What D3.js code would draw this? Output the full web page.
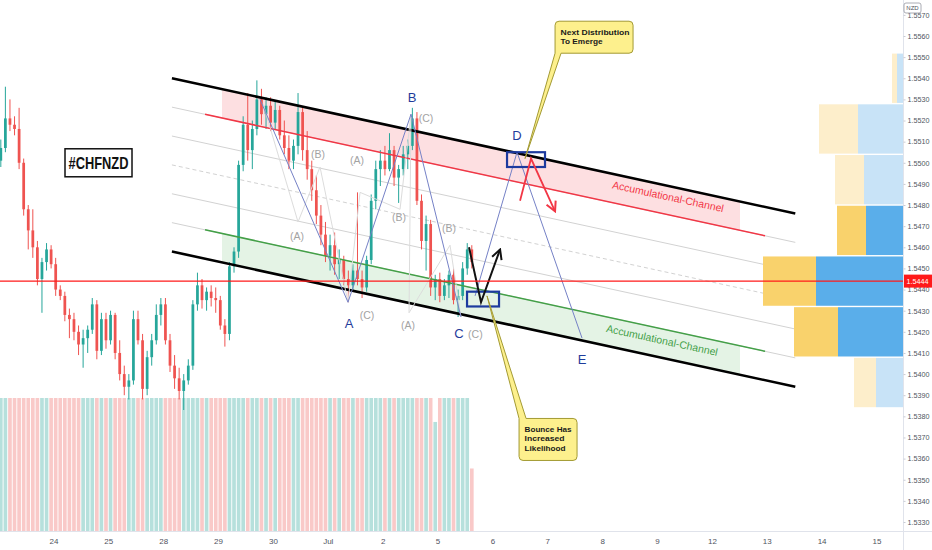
<!DOCTYPE html>
<html>
<head>
<meta charset="utf-8">
<script src="https://cdn.jsdelivr.net/npm/d3@7"></script>
<style>
html, body { margin: 0; padding: 0; background: #fff; }
svg { display: block; font-family: "Liberation Sans", Arial, sans-serif; }
</style>
</head>
<body>
<div id="chart"></div>
<script>
// trading days, weekends skipped: 0 = Jun 23, 1 = Jun 24 ... 16 = Jul 15
var dayTicks = [1, 2, 3, 4, 5, 6, 7, 8, 9, 10, 11, 12, 13, 14, 15, 16];
var dayLabels = ["24", "25", "28", "29", "30", "Jul", "2", "5", "6", "7", "8", "9", "12", "13", "14", "15"];
var priceTicks = [1.5330, 1.5340, 1.5350, 1.5360, 1.5370, 1.5380, 1.5390, 1.5400, 1.5410, 1.5420, 1.5430, 1.5440,
    1.5450, 1.5460, 1.5470, 1.5480, 1.5490, 1.5500, 1.5510, 1.5520, 1.5530, 1.5540, 1.5550, 1.5560, 1.5570];

// 2h candles from Jun 23 00:00 : [open, high, low, close]
var candles = [
    [1.5501,1.5511,1.5498,1.5507],[1.5507,1.5536,1.5505,1.5521],[1.5521,1.5530,1.5515,1.5518],[1.5518,1.5522,1.5513,1.5516],
    [1.5516,1.5526,1.5497,1.5500],[1.5500,1.5502,1.5475,1.5478],[1.5478,1.5480,1.5459,1.5468],[1.5468,1.5478,1.5455,1.5460],
    [1.5460,1.5463,1.5442,1.5445],[1.5445,1.5455,1.5429,1.5453],[1.5453,1.5462,1.5449,1.5459],[1.5459,1.5461,1.5450,1.5452],
    [1.5452,1.5455,1.5437,1.5440],[1.5440,1.5442,1.5435,1.5437],[1.5437,1.5439,1.5425,1.5428],[1.5428,1.5431,1.5417,1.5426],
    [1.5426,1.5429,1.5416,1.5420],[1.5420,1.5423,1.5409,1.5414],[1.5414,1.5421,1.5403,1.5417],[1.5417,1.5423,1.5410,1.5421],
    [1.5421,1.5436,1.5419,1.5433],[1.5433,1.5435,1.5407,1.5411],[1.5411,1.5429,1.5409,1.5426],[1.5426,1.5429,1.5412,1.5416],
    [1.5416,1.5430,1.5414,1.5428],[1.5428,1.5429,1.5407,1.5410],[1.5410,1.5416,1.5397,1.5400],[1.5400,1.5404,1.5390,1.5394],
    [1.5394,1.5400,1.5388,1.5397],[1.5397,1.5430,1.5395,1.5426],[1.5426,1.5430,1.5414,1.5416],[1.5416,1.5419,1.5388,1.5393],
    [1.5393,1.5411,1.5390,1.5408],[1.5408,1.5419,1.5404,1.5416],[1.5416,1.5433,1.5414,1.5428],[1.5428,1.5436,1.5423,1.5433],
    [1.5433,1.5436,1.5414,1.5416],[1.5416,1.5419,1.5401,1.5404],[1.5404,1.5409,1.5393,1.5398],[1.5398,1.5403,1.5388,1.5392],
    [1.5392,1.5400,1.5383,1.5397],[1.5397,1.5407,1.5395,1.5404],[1.5404,1.5435,1.5402,1.5433],[1.5433,1.5448,1.5430,1.5442],
    [1.5442,1.5445,1.5431,1.5435],[1.5435,1.5441,1.5430,1.5439],[1.5439,1.5442,1.5432,1.5436],[1.5436,1.5441,1.5429,1.5435],
    [1.5435,1.5437,1.5421,1.5423],[1.5423,1.5426,1.5413,1.5419],[1.5419,1.5453,1.5416,1.5451],[1.5451,1.5460,1.5448,1.5458],
    [1.5458,1.5501,1.5455,1.5499],[1.5499,1.5522,1.5496,1.5518],[1.5518,1.5533,1.5501,1.5506],[1.5506,1.5520,1.5497,1.5516],
    [1.5516,1.5539,1.5513,1.5530],[1.5530,1.5535,1.5518,1.5523],[1.5523,1.5531,1.5516,1.5527],[1.5527,1.5531,1.5515,1.5519],
    [1.5519,1.5529,1.5516,1.5525],[1.5525,1.5527,1.5511,1.5513],[1.5513,1.5520,1.5504,1.5507],[1.5507,1.5513,1.5497,1.5501],
    [1.5501,1.5511,1.5497,1.5508],[1.5508,1.5533,1.5504,1.5524],[1.5524,1.5526,1.5501,1.5506],[1.5506,1.5515,1.5492,1.5497],
    [1.5497,1.5501,1.5482,1.5487],[1.5487,1.5494,1.5471,1.5475],[1.5475,1.5480,1.5461,1.5466],[1.5466,1.5472,1.5453,1.5456],
    [1.5456,1.5466,1.5449,1.5461],[1.5461,1.5467,1.5447,1.5452],[1.5452,1.5459,1.5445,1.5454],[1.5454,1.5456,1.5442,1.5445],
    [1.5445,1.5449,1.5434,1.5442],[1.5442,1.5452,1.5439,1.5449],[1.5449,1.5486,1.5442,1.5445],[1.5445,1.5449,1.5436,1.5441],
    [1.5441,1.5456,1.5439,1.5454],[1.5454,1.5485,1.5452,1.5482],[1.5482,1.5501,1.5478,1.5497],[1.5497,1.5506,1.5489,1.5501],
    [1.5501,1.5508,1.5494,1.5497],[1.5497,1.5514,1.5496,1.5506],[1.5506,1.5508,1.5489,1.5493],[1.5493,1.5499,1.5481,1.5497],
    [1.5497,1.5508,1.5494,1.5504],[1.5504,1.5511,1.5497,1.5508],[1.5508,1.5526,1.5506,1.5521],[1.5521,1.5524,1.5480,1.5482],
    [1.5482,1.5485,1.5459,1.5463],[1.5463,1.5475,1.5449,1.5471],[1.5471,1.5473,1.5437,1.5441],[1.5441,1.5447,1.5435,1.5445],
    [1.5445,1.5448,1.5434,1.5437],[1.5437,1.5445,1.5435,1.5442],[1.5442,1.5449,1.5436,1.5447],[1.5447,1.5450,1.5433,1.5435],
    [1.5435,1.5440,1.5427,1.5437],[1.5437,1.5453,1.5435,1.5450],[1.5450,1.5462,1.5447,1.5459],[1.5459,1.5461,1.5450,1.5453]
];

// tick volume per candle (pane is capped, most bars run off the top)
var volumes = [
    1180,1240,1090,1130,1210,1320,1260,1150,1190,1230,1110,1070,
    1160,1050,1120,1200,1140,1090,1250,1170,1210,1300,1180,1130,
    1150,1220,1270,1160,1100,1290,1190,1240,1130,1080,1210,1150,
    1120,1180,1230,1170,1310,1200,1350,1280,1140,1090,1060,1110,
    1190,1220,1360,1230,1420,1380,1290,1210,1330,1240,1170,1150,
    1120,1200,1230,1180,1160,1270,1250,1190,1220,1260,1240,1180,
    1150,1170,1130,1190,1260,1140,1310,1170,1200,1250,1280,1190,
    1140,1210,1160,1120,1100,1230,1340,1390,1300,1260,1210,820,
    1180,1150,1130,1170,1220,1190,1160,470
];
var lastPrice = 1.5444;

// volume profile rows, bottom to top
var vpEdges = [1.5384, 1.5408, 1.5432, 1.5456, 1.5480, 1.5504, 1.5528, 1.5552];
var vpUp = [27, 65, 87, 37, 39, 45, 6];
var vpDown = [22, 44, 53, 29, 29, 39, 5];
var vpValueArea = [false, true, true, true, false, false, false];

// parallel channel: top line anchors [day, price], width in price
var channelTop = [[3.16, 1.5540], [14.52, 1.5476]];
var channelWidth = 0.0082;
var channelLevels = [0, 1 / 6, 2 / 6, 3 / 6, 4 / 6, 5 / 6, 1];
var levelSpan = [3.763, 13.969];
var zoneSpan = [4.073, 13.513];
var channelNames = ["Accumulational-Channel", "Accumulational-Channel"];
var channelNamePos = [[12.201, 1.5484], [12.092, 1.5416]];

// wave count
var waveMain = [[4.765, 1.5530], [6.369, 1.5434], [7.517, 1.5523], [8.428, 1.5427]];
var waveProj = [[8.684, 1.5437], [9.449, 1.5505], [10.634, 1.5417]];
var waveSub = [
    [[4.820, 1.5528], [5.458, 1.5472], [5.859, 1.5498], [6.369, 1.5434]],
    [[6.369, 1.5434], [6.588, 1.5486], [7.317, 1.5478], [7.517, 1.5523]],
    [[7.517, 1.5523], [7.481, 1.5429], [8.228, 1.5461], [8.428, 1.5427]]
];
var waveLabels = [["A", 6.387, 1.5424], ["B", 7.535, 1.5531], ["C", 8.392, 1.5419], ["D", 9.449, 1.5513], ["E", 10.634, 1.5407]];
var subLabels = [["(A)", 5.440, 1.5465], ["(B)", 5.822, 1.5504], ["(C)", 6.715, 1.5428], ["(A)", 6.533, 1.5501],
    ["(B)", 7.298, 1.5474], ["(C)", 7.791, 1.5521], ["(A)", 7.463, 1.5423], ["(B)", 8.210, 1.5469], ["(C)", 8.690, 1.5419]];
var zoneBoxes = [[9.267, 9.959, 1.5505, 1.5498], [8.538, 9.121, 1.5439, 1.5432]];
var bounceArrow = [[8.574, 1.5460], [8.793, 1.5434], [9.140, 1.5459]];
var dropArrow = [[9.504, 1.5482], [9.704, 1.5502], [10.142, 1.5477]];

// callouts: text, tip [day, price], box corner [day, price]
var calloutText = [["Next Distribution", "To Emerge"], ["Bounce Has", "Increased", "Likelihood"]];
var calloutTip = [[9.595, 1.5502], [8.902, 1.5437]];
var calloutBox = [[10.142, 1.5567], [9.486, 1.5379]];
var ticker = ["#CHFNZD", 1.822, 1.5500];

var W = 932, H = 550, plotRight = 903, plotBottom = 531;

var x = d3.scaleLinear().domain([1, 16]).range([53.4, 876.5]);
var y = d3.scaleLinear().domain([1.5330, 1.5560]).range([522, 36]);
var vy = d3.scaleLinear().domain([0, 1000]).range([plotBottom, 398]).clamp(true);
var vpx = d3.scaleLinear().domain([0, 140]).range([0, 140]);
var step = 1 / 12;
var line = d3.line().x(function(d) { return x(d[0]); }).y(function(d) { return y(d[1]); });

var svg = d3.select("#chart").append("svg").attr("width", W).attr("height", H);
var defs = svg.append("defs");
defs.append("clipPath").attr("id", "plotClip")
    .append("rect").attr("width", plotRight).attr("height", plotBottom);

function addMarker(id, color) {
    defs.append("marker").attr("id", id)
        .attr("viewBox", "0 0 12 12").attr("refX", 10.5).attr("refY", 6)
        .attr("markerWidth", 12).attr("markerHeight", 12)
        .attr("markerUnits", "userSpaceOnUse").attr("orient", "auto")
        .append("path").attr("d", "M1,1 L10.5,6 L1,11")
        .attr("fill", "none").attr("stroke", color).attr("stroke-width", 2);
}
addMarker("headBlack", "#111");
addMarker("headRed", "#f23645");

var plot = svg.append("g").attr("clip-path", "url(#plotClip)");

// Volume
var barW = x(step) - x(0);
plot.append("g").selectAll("rect").data(candles).enter().append("rect")
    .attr("x", function(d, i) { return x((i + 0.5) * step) - barW * 0.4; })
    .attr("width", barW * 0.8)
    .attr("y", function(d, i) { return vy(volumes[i]); })
    .attr("height", function(d, i) { return plotBottom - vy(volumes[i]); })
    .attr("fill", function(d) { return d[3] >= d[0] ? "#b6e0dc" : "#f9c9c8"; });

// Channel
function chP(t, lvl) {
    var a = channelTop[0], b = channelTop[1];
    return a[1] + (b[1] - a[1]) * (t - a[0]) / (b[0] - a[0]) - lvl * channelWidth;
}
function seg(lvl, span) { return [[span[0], chP(span[0], lvl)], [span[1], chP(span[1], lvl)]]; }
function band(l0, l1, span) {
    return [[span[0], chP(span[0], l0)], [span[1], chP(span[1], l0)], [span[1], chP(span[1], l1)], [span[0], chP(span[0], l1)]];
}
var fullSpan = [channelTop[0][0], channelTop[1][0]];

plot.append("path").attr("d", line(band(0, 1 / 6, zoneSpan)) + "Z").attr("fill", "rgba(242,54,69,0.16)");
plot.append("path").attr("d", line(band(5 / 6, 1, zoneSpan)) + "Z").attr("fill", "rgba(76,175,80,0.15)");

plot.append("g").selectAll("path").data(channelLevels.slice(1, 6)).enter().append("path")
    .attr("d", function(l) { return line(seg(l, fullSpan)); })
    .attr("fill", "none").attr("stroke", "#d2d2d2").attr("stroke-width", 1)
    .attr("stroke-dasharray", function(l, i) { return i === 2 ? "4,3" : null; });

// Volume profile
var vpG = plot.append("g");
vpUp.forEach(function(u, i) {
    var top = y(vpEdges[i + 1]) + 0.7, h = y(vpEdges[i]) - y(vpEdges[i + 1]) - 1.4;
    var dark = vpValueArea[i];
    vpG.append("rect").attr("x", plotRight - vpx(u)).attr("y", top).attr("width", vpx(u)).attr("height", h)
        .attr("fill", dark ? "#5aaeea" : "#c8e3f7");
    vpG.append("rect").attr("x", plotRight - vpx(u) - vpx(vpDown[i])).attr("y", top).attr("width", vpx(vpDown[i])).attr("height", h)
        .attr("fill", dark ? "#f9d26c" : "#fdeecb");
});

// Candles
var cw = barW * 0.6;
var cg = plot.append("g").selectAll("g").data(candles).enter().append("g");
function cc(d) { return d[3] >= d[0] ? "#26a69a" : "#ef5350"; }
cg.append("line")
    .attr("x1", function(d, i) { return x((i + 0.5) * step); })
    .attr("x2", function(d, i) { return x((i + 0.5) * step); })
    .attr("y1", function(d) { return y(d[1]); })
    .attr("y2", function(d) { return y(d[2]); })
    .attr("stroke", cc).attr("stroke-width", 1);
cg.append("rect")
    .attr("x", function(d, i) { return x((i + 0.5) * step) - cw / 2; })
    .attr("width", cw)
    .attr("y", function(d) { return y(Math.max(d[0], d[3])); })
    .attr("height", function(d) { return Math.max(1, Math.abs(y(d[0]) - y(d[3]))); })
    .attr("fill", cc);

// Channel borders and levels
plot.append("path").attr("d", line(seg(1 / 6, levelSpan))).attr("stroke", "#f23645").attr("stroke-width", 1.5).attr("fill", "none");
plot.append("path").attr("d", line(seg(5 / 6, levelSpan))).attr("stroke", "#43a047").attr("stroke-width", 1.5).attr("fill", "none");
[0, 1].forEach(function(l) {
    plot.append("path").attr("d", line(seg(l, fullSpan))).attr("stroke", "#000").attr("stroke-width", 2.6).attr("fill", "none");
});

var ang = Math.atan2(y(channelTop[1][1]) - y(channelTop[0][1]), x(channelTop[1][0]) - x(channelTop[0][0])) * 180 / Math.PI;
channelNames.forEach(function(n, i) {
    var px = x(channelNamePos[i][0]), py = y(channelNamePos[i][1]);
    plot.append("text").attr("transform", "translate(" + px + "," + py + ") rotate(" + ang + ")")
        .attr("text-anchor", "middle").attr("dy", "0.35em")
        .attr("font-size", 10.5).attr("fill", i === 0 ? "#f23645" : "#43a047")
        .text(n);
});

// Waves
plot.append("g").selectAll("path").data(waveSub).enter().append("path")
    .attr("d", line).attr("fill", "none").attr("stroke", "#dcdcdc").attr("stroke-width", 1);
plot.append("path").attr("d", line(waveMain)).attr("fill", "none").attr("stroke", "#7581c6").attr("stroke-width", 1);
plot.append("path").attr("d", line(waveProj)).attr("fill", "none").attr("stroke", "#7581c6").attr("stroke-width", 1);

plot.append("g").selectAll("text").data(subLabels).enter().append("text")
    .attr("x", function(d) { return x(d[1]); }).attr("y", function(d) { return y(d[2]); })
    .attr("text-anchor", "middle").attr("dy", "0.35em").attr("font-size", 10.5).attr("fill", "#a3a3a3")
    .text(function(d) { return d[0]; });
plot.append("g").selectAll("text").data(waveLabels).enter().append("text")
    .attr("x", function(d) { return x(d[1]); }).attr("y", function(d) { return y(d[2]); })
    .attr("text-anchor", "middle").attr("dy", "0.35em").attr("font-size", 13).attr("fill", "#1f3c9b")
    .text(function(d) { return d[0]; });

// Zones and arrows
plot.append("g").selectAll("rect").data(zoneBoxes).enter().append("rect")
    .attr("x", function(d) { return x(d[0]); }).attr("y", function(d) { return y(d[2]); })
    .attr("width", function(d) { return x(d[1]) - x(d[0]); })
    .attr("height", function(d) { return y(d[3]) - y(d[2]); })
    .attr("fill", "none").attr("stroke", "#1d3a9e").attr("stroke-width", 2.2);
plot.append("path").attr("d", line(bounceArrow)).attr("fill", "none").attr("stroke", "#111")
    .attr("stroke-width", 2).attr("marker-end", "url(#headBlack)");
plot.append("path").attr("d", line(dropArrow)).attr("fill", "none").attr("stroke", "#f23645")
    .attr("stroke-width", 1.8).attr("marker-end", "url(#headRed)");

// Ticker tag
var tg = plot.append("g").attr("transform", "translate(" + x(ticker[1]) + "," + y(ticker[2]) + ")");
tg.append("rect").attr("x", -33.5).attr("y", -14).attr("width", 67).attr("height", 28)
    .attr("fill", "#fff").attr("stroke", "#111").attr("stroke-width", 1.5);
tg.append("text").attr("text-anchor", "middle").attr("y", 6.5)
    .attr("font-weight", "bold").attr("font-size", 17)
    .attr("textLength", 60).attr("lengthAdjust", "spacingAndGlyphs").attr("fill", "#111")
    .text(ticker[0]);

// Last price line
plot.append("line").attr("x1", 0).attr("x2", plotRight).attr("y1", y(lastPrice)).attr("y2", y(lastPrice))
    .attr("stroke", "#ff1a1a").attr("stroke-width", 1.4);

// Callouts
var boxSize = [[78, 32], [58, 42]];
var textWidths = [[69, 42], [47, 40, 41]];
calloutText.forEach(function(lines, k) {
    var bx = x(calloutBox[k][0]), by = y(calloutBox[k][1]);
    var w = boxSize[k][0], h = boxSize[k][1], r = 4;
    var tx = x(calloutTip[k][0]), ty = y(calloutTip[k][1]);
    var p;
    if (ty > by) {
        p = "M" + (bx + r) + "," + by + "H" + (bx + w - r) + "Q" + (bx + w) + "," + by + " " + (bx + w) + "," + (by + r) +
            "V" + (by + h - r) + "Q" + (bx + w) + "," + (by + h) + " " + (bx + w - r) + "," + (by + h) +
            "H" + (bx + 6) + "L" + tx + "," + ty + "L" + bx + "," + (by + h) + "V" + (by + r) +
            "Q" + bx + "," + by + " " + (bx + r) + "," + by + "Z";
    } else {
        p = "M" + bx + "," + by + "L" + tx + "," + ty + "L" + (bx + 7) + "," + by + "H" + (bx + w - r) +
            "Q" + (bx + w) + "," + by + " " + (bx + w) + "," + (by + r) + "V" + (by + h - r) +
            "Q" + (bx + w) + "," + (by + h) + " " + (bx + w - r) + "," + (by + h) + "H" + (bx + r) +
            "Q" + bx + "," + (by + h) + " " + bx + "," + (by + h - r) + "Z";
    }
    svg.append("path").attr("d", p).attr("fill", "#fdf08d").attr("stroke", "#a39a33").attr("stroke-width", 1);
    lines.forEach(function(t, j) {
        svg.append("text").attr("x", bx + 5.5).attr("y", by + 13.5 + j * 9.5)
            .attr("font-weight", "bold").attr("font-size", 8)
            .attr("textLength", textWidths[k][j]).attr("lengthAdjust", "spacingAndGlyphs")
            .attr("fill", "#1a1a1a").text(t);
    });
});

// Axes
svg.append("line").attr("x1", plotRight + 0.5).attr("x2", plotRight + 0.5).attr("y1", 0).attr("y2", H).attr("stroke", "#e0e3eb");
svg.append("line").attr("x1", 0).attr("x2", W).attr("y1", plotBottom + 0.5).attr("y2", plotBottom + 0.5).attr("stroke", "#e0e3eb");

var yAxis = svg.append("g").attr("transform", "translate(" + (plotRight + 0.5) + ",0)")
    .call(d3.axisRight(y).tickValues(priceTicks).tickFormat(d3.format(".4f")).tickSize(2).tickSizeOuter(0).tickPadding(2));
yAxis.select(".domain").remove();
yAxis.selectAll("line").attr("stroke", "#c9ccd4");
yAxis.selectAll("text").attr("font-family", "'Liberation Sans', Arial, sans-serif").attr("font-size", 7.2).attr("fill", "#50535e");

var xAxis = svg.append("g").attr("transform", "translate(0," + plotBottom + ")")
    .call(d3.axisBottom(x).tickValues(dayTicks).tickFormat(function(d, i) { return dayLabels[i]; }).tickSize(0).tickPadding(7));
xAxis.select(".domain").remove();
xAxis.selectAll("text").attr("font-family", "'Liberation Sans', Arial, sans-serif").attr("font-size", 8).attr("fill", "#50535e");

// last price tag
svg.append("rect").attr("x", plotRight + 1).attr("y", y(lastPrice) - 6.5).attr("width", W - plotRight - 1).attr("height", 13).attr("fill", "#ff1a1a");
svg.append("text").attr("x", plotRight + 3.5).attr("y", y(lastPrice)).attr("dy", "0.35em")
    .attr("font-size", 7.2).attr("fill", "#fff").text(d3.format(".4f")(lastPrice));

// currency badge
svg.append("rect").attr("x", 904).attr("y", 3).attr("width", 17).attr("height", 10).attr("rx", 2)
    .attr("fill", "#fff").attr("stroke", "#9598a1").attr("stroke-width", 0.8);
svg.append("text").attr("x", 912.5).attr("y", 8).attr("dy", "0.35em").attr("text-anchor", "middle")
    .attr("font-size", 6).attr("fill", "#50535e").text("NZD");
</script>
</body>
</html>
